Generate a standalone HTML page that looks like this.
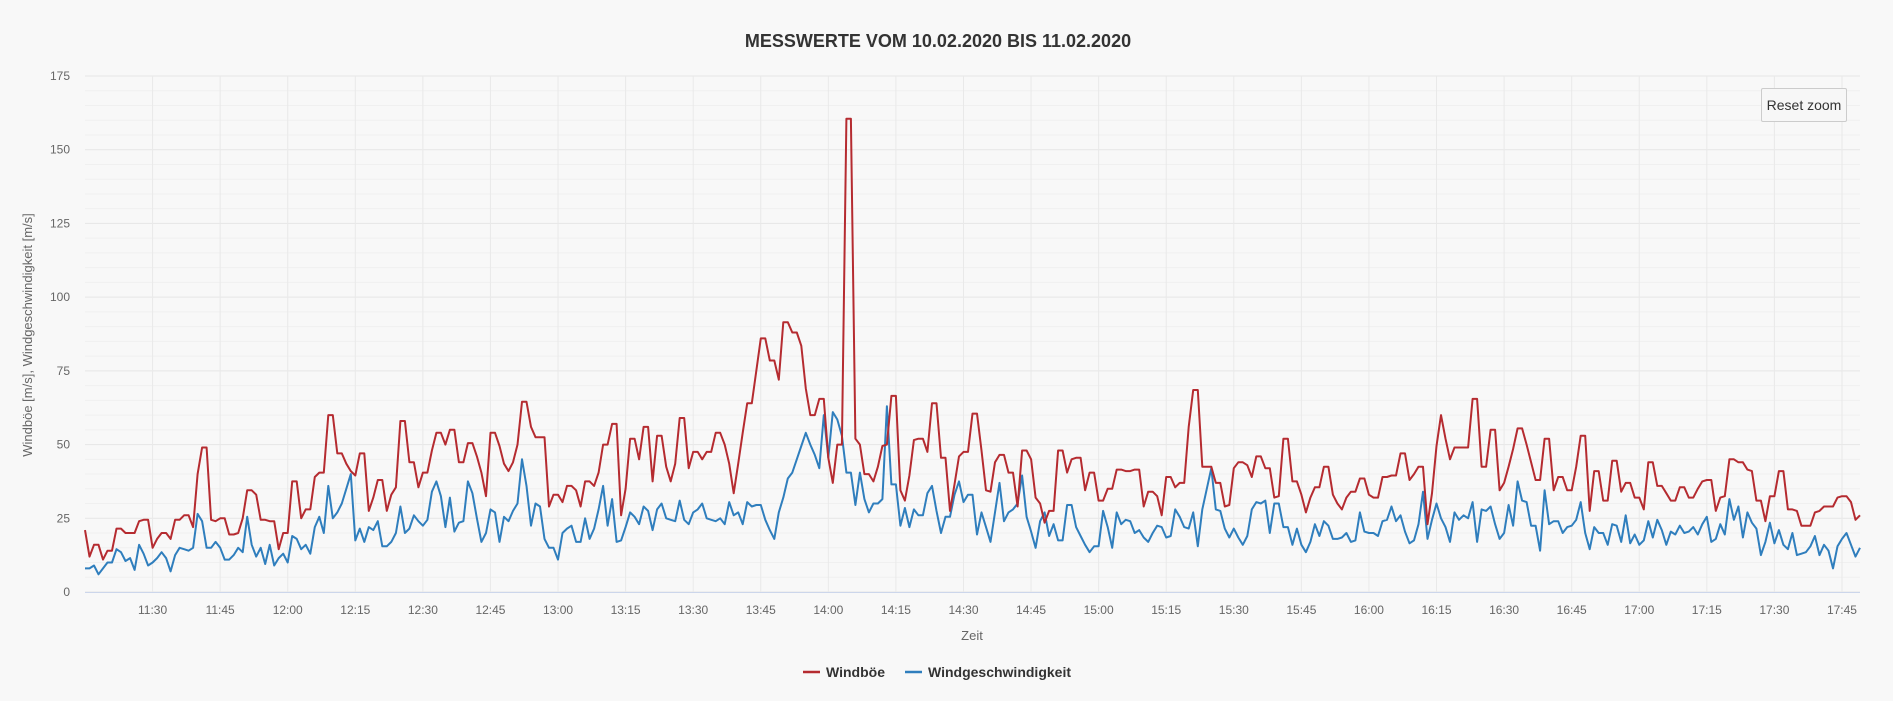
<!DOCTYPE html>
<html><head><meta charset="utf-8">
<style>
html,body{margin:0;padding:0;background:#f8f8f8;}
body{width:1893px;height:701px;overflow:hidden;font-family:"Liberation Sans",sans-serif;}
#reset{position:absolute;left:1761px;top:88px;width:86px;height:34px;border:1px solid #cccccc;border-radius:2px;background:#f7f7f7;font:14px "Liberation Sans",sans-serif;color:#333;box-sizing:border-box;display:flex;align-items:center;justify-content:center;}
</style></head>
<body>
<svg id="chart" width="1893" height="701" style="position:absolute;left:0;top:0">
<text x="938" y="47" text-anchor="middle" font-size="18" font-weight="bold" fill="#333">MESSWERTE VOM 10.02.2020 BIS 11.02.2020</text>
<g id="grid"></g><g id="xticks"></g><g id="yticks"></g><g id="series"></g>
<text transform="translate(32,335) rotate(-90)" text-anchor="middle" font-size="13" fill="#666">Windböe [m/s], Windgeschwindigkeit [m/s]</text>
<text x="972" y="640" text-anchor="middle" font-size="13" fill="#666">Zeit</text>
<g><line x1="803" y1="672" x2="820" y2="672" stroke="#b52b30" stroke-width="2.5"/><text x="826" y="677" font-size="14" font-weight="bold" fill="#333">Windböe</text></g>
<g><line x1="905" y1="672" x2="922" y2="672" stroke="#2f7ebd" stroke-width="2.5"/><text x="928" y="677" font-size="14" font-weight="bold" fill="#333">Windgeschwindigkeit</text></g>
</svg>
<div id="reset">Reset zoom</div>
<script>
const gust = [21,12,16,16,11,14,14,21.5,21.5,20,20,20,24,24.5,24.5,15,18,20,20,18,24.5,24.5,26,26,22,40,49,49,24.5,24,25,25,19.5,19.5,20,25,34.5,34.5,33,24.5,24.5,24,24,14.5,20,20,37.5,37.5,25,28,28,39,40.5,40.5,60,60,47,47,43.5,41,39.5,47,47,27.5,32,38,38,27.5,33,35.5,58,58,44,44,35.5,40.5,40.5,48,54,54,50,55,55,44,44,50.5,50.5,46,40.5,32.5,54,54,49.5,43.5,41,44,50,64.5,64.5,56,52.5,52.5,52.5,29,33,33,30.5,36,36,34.5,29,37.5,37.5,36,40.5,50,50,57,57,26,35,52,52,45,56,56,37.5,53,53,42.5,37.5,43.5,59,59,42,47.5,47.5,45,47.5,47.5,54,54,50,43.5,33.5,43.5,54,64,64,75,86,86,78.5,78.5,72,91.5,91.5,88,88,83.5,69,60,60,65.5,65.5,45.5,37,50,50,160.5,160.5,52,50,40,40,37.5,42.5,49.5,50,66.5,66.5,34.5,31,39.5,51.5,52,52,47.5,64,64,45.5,45.5,27.5,36.5,46,47.5,47.5,60.5,60.5,48,34.5,34,44,46.5,46.5,40.5,40.5,29,48,48,45,32,30,23.5,27.5,27.5,48,48,40.5,45,45.5,45.5,34.5,40.5,40.5,31,31,35,35,41.5,41.5,41,41,41.5,41.5,29,34,34,32.5,26,39,39,35.5,37,37,56,68.5,68.5,42.5,42.5,42.5,37,37,29,29.5,42,44,44,43,39,46,46,42,42,32,32.5,52,52,37.5,37.5,33,27,32,35.5,35.5,42.5,42.5,33,30,28,32,34,34,38.5,38.5,33,32,32,39,39,39.5,39.5,47,47,38,40,42.5,42.5,23,33.5,49.5,60,52,45,49,49,49,49,65.5,65.5,42.5,42.5,55,55,34.5,37,42.5,48.5,55.5,55.5,50,44,38,38,52,52,34.5,39,39,34.5,34.5,42.5,53,53,27.5,41,41,31,31,44.5,44.5,34,37,37,32,32,28,44,44,36,36,33.5,31,31,35.5,35.5,32,32,35,37.5,38,38,27.5,32,32.5,45,45,44,44,41.5,41,31,31,24,32.5,32.5,41,41,28,28,27.5,22.5,22.5,22.5,27,27.5,29,29,29,32,32.5,32.5,30.5,24.5,26];
const speed = [8,8,9,6,8,10,10,14.5,13.5,10.5,11.5,7.5,16,13,9,10,11.5,13.5,11.5,7,12.5,15,14.5,14,15,26.5,24,15,15,17,15,11,11,12.5,15,13.5,25.5,16,12,15,9.5,16,9,11.5,13,10,19,18,14.5,16,13,22,25.5,20,36,25,27,30,35,40,17.5,21.5,17,22,21,24,15.5,15.5,17,20,29,20,21.5,26,24,22.5,24.5,34,37.5,32.5,22,32,20.5,23.5,24,37.5,33.5,25,17,20,28,27,17,25.5,24,27.5,30,45,36,22.5,30,29,18,15,15,11,20,21.5,22.5,17,17,25,18,21.5,28,36,22.5,31.5,17,17.5,22,27,25.5,23,29,27.5,21,28,30,25,24.5,24,31,24.5,23,27,28,30,25,24.5,24,25,23,30.5,26,27,23,30.5,29,29.5,29.5,24.5,21,18,27,32,38.5,40.5,45,49.5,54,50,46.5,42,60,45.5,61,58.5,53,40.5,40.5,29.5,40.5,31.5,27,30,30,31.5,63,36.5,36.5,22.5,28.5,22,28,26,26,33.5,36,27.5,20,25.5,25.5,33,37.5,30.5,33,33,19.5,27,22,17,27,37,24,27,28,30,39.5,25.5,20.5,15,24,27,19,23,17.5,17.5,29.5,29.5,22,19,16,13.5,15.5,15.5,27.5,22,15,27,23,24.5,24,20,21,18.5,17,20,22.5,22,18.5,19,28,25.5,22,21.5,27,15.5,28,35,42,28,27.5,21.5,18.5,21.5,18.5,16,19,28,30.5,30,31,20,30,30,22,22,16,21.5,16,13.5,17,23,19,24,22.5,18,18,18.5,20,17,17.5,27,20.5,20,20,19,24,24.5,29,24,26,20.5,16.5,17.5,23,34,18,24.5,30,25,22,17,27,24.5,26,25,30.5,17,28,27.5,29,23,18,20,29.5,22.5,37.5,31,30.5,22.5,22.5,14,34.5,23,24,24,20,22,22.5,24.5,30.5,20,14.5,22,20,20,16,23,22.5,17,26,16.5,19.5,16,17.5,24,18.5,24.5,21,16,20.5,19.5,22.5,20,20.5,22,19.5,23,25.5,17,18,23,19.5,31.5,24.5,29,18.5,27,23.5,21.5,12.5,17,23.5,16.5,21,16,14.5,20,12.5,13,13.5,15.5,19,12.5,16,14,8,15.5,18,20,16,12,15];
const yTicks = [0,25,50,75,100,125,150,175];
const xTickLabels = ["11:30","11:45","12:00","12:15","12:30","12:45","13:00","13:15","13:30","13:45","14:00","14:15","14:30","14:45","15:00","15:15","15:30","15:45","16:00","16:15","16:30","16:45","17:00","17:15","17:30","17:45"];
const xTickMinutes = [15,30,45,60,75,90,105,120,135,150,165,180,195,210,225,240,255,270,285,300,315,330,345,360,375,390];

const NS="http://www.w3.org/2000/svg";
const L=85,R=1860,Y0=592,Y1=76,MAXV=175,MAXM=394;
const xs=m=>L+(R-L)*m/MAXM;
const ys=v=>Y0-(Y0-Y1)*v/MAXV;
function mk(tag,attrs,parent){const e=document.createElementNS(NS,tag);for(const k in attrs)e.setAttribute(k,attrs[k]);parent.appendChild(e);return e;}
const grid=document.getElementById('grid');
for(let v=0;v<=MAXV;v+=5){
  if(v%25===0)continue;
  const l=mk('line',{x1:L,x2:R,y1:ys(v),y2:ys(v),stroke:'#f0f0f0','stroke-width':1},grid);
  
  
}
const yt=document.getElementById('yticks');
yTicks.forEach(v=>{
  const l=mk('line',{x1:L,x2:R,y1:ys(v),y2:ys(v),stroke:'#e6e6e6','stroke-width':1},grid);
  
  
  const t=mk('text',{x:70,y:ys(v)+4,'text-anchor':'end','font-size':12,fill:'#666'},yt);
  t.textContent=v;
  
  
});
const xt=document.getElementById('xticks');
xTickMinutes.forEach((m,i)=>{
  const l=mk('line',{x1:xs(m),x2:xs(m),y1:Y1,y2:Y0,stroke:'#e9e9e9','stroke-width':1},grid);
  
  
  const t=mk('text',{x:xs(m),y:614,'text-anchor':'middle','font-size':12,fill:'#666'},xt);
  t.textContent=xTickLabels[i];
  
  
});
const ax=mk('line',{x1:L,x2:R,y1:Y0+0.5,y2:Y0+0.5,stroke:'#ccd6eb','stroke-width':1},grid);


const sg=document.getElementById('series');
function path(arr){return arr.map((v,i)=>(i?'L':'M')+xs(i).toFixed(1)+' '+ys(v).toFixed(1)).join(' ');}
const pb=mk('path',{d:path(speed),fill:'none',stroke:'#2f7ebd','stroke-width':2,'stroke-linejoin':'round'},sg);


const pr=mk('path',{d:path(gust),fill:'none',stroke:'#b52b30','stroke-width':2,'stroke-linejoin':'round'},sg);


</script>
</body></html>
